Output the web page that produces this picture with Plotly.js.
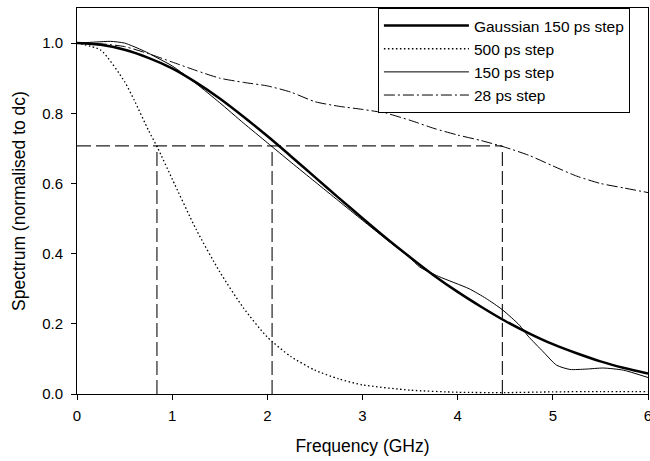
<!DOCTYPE html>
<html>
<head>
<meta charset="utf-8">
<script src="https://cdn.plot.ly/plotly-3.0.1.min.js"></script>
<style>html,body{margin:0;padding:0;background:#fff;}#chart{width:650px;height:461px;}</style>
</head>
<body>
<div id="chart"></div>
<script>
// Frequency (GHz) and normalised spectrum values
const gaussFreq = [0, 0.25, 0.5, 0.75, 1.0, 1.25, 1.5, 1.75, 2.0, 2.25, 2.5, 2.75, 3.0, 3.25, 3.5, 3.75, 4.0, 4.25, 4.5, 4.75, 5.0, 5.25, 5.5, 5.75, 6.0];
const gaussVal  = [1.0, 0.995, 0.981, 0.958, 0.928, 0.888, 0.842, 0.790, 0.735, 0.677, 0.618, 0.559, 0.501, 0.444, 0.390, 0.338, 0.291, 0.248, 0.208, 0.173, 0.142, 0.116, 0.093, 0.074, 0.058];

const step500Freq = [0, 0.25, 0.5, 0.6, 0.75, 0.85, 1.0, 1.25, 1.5, 1.75, 2.0, 2.25, 2.5, 2.75, 3.0, 3.5, 4.0, 4.5, 5.0, 5.5, 6.0];
const step500Val  = [1.0, 0.98, 0.89, 0.838, 0.752, 0.70, 0.613, 0.47, 0.348, 0.245, 0.162, 0.106, 0.068, 0.043, 0.026, 0.011, 0.005, 0.004, 0.006, 0.007, 0.007];

const step150Freq = [0, 0.2, 0.35, 0.5, 0.7, 0.85, 1.0, 1.25, 1.5, 1.75, 2.0, 2.25, 2.5, 2.75, 3.0, 3.25, 3.5, 3.6, 3.8, 4.12, 4.3, 4.47, 4.65, 4.74, 4.9, 5.04, 5.18, 5.35, 5.53, 5.74, 6.0];
const step150Val  = [1.0, 1.003, 1.005, 1.0, 0.978, 0.957, 0.935, 0.885, 0.830, 0.772, 0.716, 0.660, 0.605, 0.550, 0.495, 0.441, 0.388, 0.362, 0.335, 0.300, 0.272, 0.240, 0.196, 0.165, 0.120, 0.082, 0.070, 0.071, 0.074, 0.068, 0.047];

const step28Freq = [0, 0.25, 0.5, 0.75, 1.0, 1.25, 1.5, 1.75, 2.0, 2.25, 2.5, 2.75, 3.0, 3.25, 3.5, 3.75, 4.0, 4.25, 4.5, 4.75, 5.0, 5.25, 5.5, 5.75, 6.0];
const step28Val  = [1.0, 0.998, 0.99, 0.97, 0.946, 0.922, 0.90, 0.888, 0.878, 0.86, 0.833, 0.82, 0.811, 0.80, 0.78, 0.757, 0.738, 0.722, 0.703, 0.68, 0.65, 0.621, 0.60, 0.587, 0.574];

// -3 dB reference level and bandwidth crossings
const level3dB = 0.707;
const bandwidths = [0.84, 2.05, 4.47];

const traces = [];
// horizontal reference line
traces.push({
  x: [0, bandwidths[bandwidths.length - 1]], y: [level3dB, level3dB],
  mode: 'lines', showlegend: false, hoverinfo: 'skip',
  line: {color: '#222', width: 1.2, dash: '14px,5px'}
});
bandwidths.forEach(f => traces.push({
  x: [f, f], y: [0, level3dB],
  mode: 'lines', showlegend: false, hoverinfo: 'skip',
  line: {color: '#222', width: 1.2, dash: '14px,5px'}
}));

traces.push({x: gaussFreq, y: gaussVal, name: 'Gaussian 150 ps step', mode: 'lines',
  line: {color: '#000', width: 2.5, shape: 'spline', smoothing: 0.6}});
traces.push({x: step500Freq, y: step500Val, name: '500 ps step', mode: 'lines',
  line: {color: '#000', width: 1.3, dash: '1.5px,2.5px', shape: 'spline', smoothing: 0.6}});
traces.push({x: step150Freq, y: step150Val, name: '150 ps step', mode: 'lines',
  line: {color: '#000', width: 1, shape: 'spline', smoothing: 0.6}});
traces.push({x: step28Freq, y: step28Val, name: '28 ps step', mode: 'lines',
  line: {color: '#000', width: 1, dash: '11px,3px,2px,3px', shape: 'spline', smoothing: 0.6}});

const font = 'Liberation Sans, Arial, Helvetica, sans-serif';
const layout = {
  width: 650, height: 461,
  margin: {l: 77, r: 2, t: 8, b: 67},
  paper_bgcolor: '#fff', plot_bgcolor: '#fff',
  font: {family: font, size: 15, color: '#000'},
  showlegend: true,
  legend: {
    x: 0.527, y: 1, xanchor: 'left', yanchor: 'top',
    bgcolor: '#fff', bordercolor: '#000', borderwidth: 1,
    font: {family: font, size: 15.5, color: '#000'},
    itemwidth: 85, traceorder: 'normal'
  },
  xaxis: {
    range: [0, 6], tickvals: [0, 1, 2, 3, 4, 5, 6], ticktext: ['0', '1', '2', '3', '4', '5', '6'],
    ticks: 'outside', ticklen: 5, tickcolor: '#000', tickwidth: 1,
    showline: true, linecolor: '#000', linewidth: 1, mirror: true,
    showgrid: false, zeroline: false, ticklabelstandoff: 3, ticklabeloverflow: 'allow',
    tickfont: {family: font, size: 15, color: '#000'},
    title: {text: 'Frequency (GHz)', font: {family: font, size: 17.5, color: '#000'}, standoff: 16}
  },
  yaxis: {
    range: [0, 1.1], tickvals: [0, 0.2, 0.4, 0.6, 0.8, 1.0], ticktext: ['0.0', '0.2', '0.4', '0.6', '0.8', '1.0'],
    ticks: 'outside', ticklen: 5, tickcolor: '#000', tickwidth: 1,
    showline: true, linecolor: '#000', linewidth: 1, mirror: true,
    showgrid: false, zeroline: false, ticklabelstandoff: 5,
    tickfont: {family: font, size: 15, color: '#000'},
    title: {text: 'Spectrum (normalised to dc)', font: {family: font, size: 17.5, color: '#000'}, standoff: 12}
  }
};

Plotly.newPlot('chart', traces, layout, {displayModeBar: false, staticPlot: true});
</script>
</body>
</html>
